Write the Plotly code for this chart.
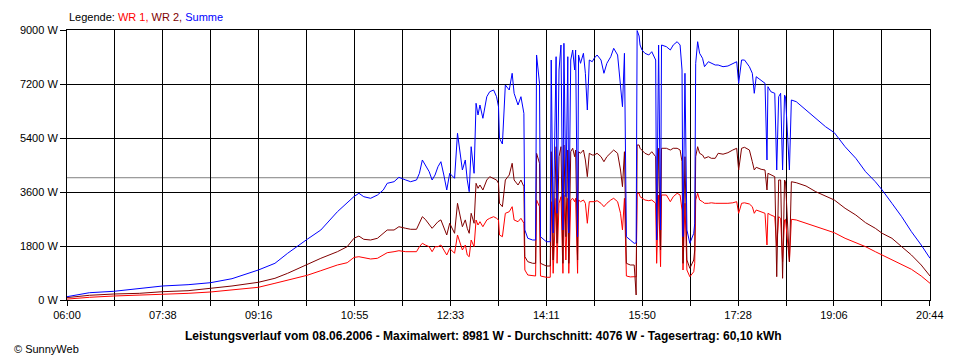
import plotly.graph_objects as go
import pandas as pd

DAY = "2006-06-08"

times = [
    "06:00", "06:09", "06:23", "06:48", "07:14", "07:38", "08:04", "08:27", "08:49", "09:16",
    "09:33", "09:46", "10:06", "10:20", "10:37", "10:47", "10:54", "10:59", "11:04", "11:11",
    "11:18", "11:24", "11:28", "11:35", "11:40", "11:47", "11:52", "11:58", "12:01", "12:04",
    "12:07", "12:11", "12:14", "12:17", "12:20", "12:23", "12:26", "12:29", "12:32", "12:37",
    "12:40", "12:42", "12:45", "12:48", "12:50", "12:52", "12:54", "12:57", "12:59", "13:01",
    "13:03", "13:06", "13:10", "13:13", "13:17", "13:20", "13:22", "13:23", "13:26", "13:29",
    "13:33", "13:36", "13:38", "13:42", "13:45", "13:48", "13:49", "13:52", "13:57", "14:00",
    "14:01", "14:04", "14:05", "14:11", "14:15", "14:16", "14:18", "14:21", "14:22", "14:24",
    "14:26", "14:28", "14:29", "14:31", "14:33", "14:34", "14:36", "14:38", "14:40", "14:41",
    "14:43", "14:44", "14:46", "14:49", "14:51", "14:53", "14:55", "14:58", "15:00", "15:03",
    "15:07", "15:10", "15:13", "15:17", "15:20", "15:24", "15:27", "15:29", "15:31", "15:33",
    "15:37", "15:41", "15:43", "15:44", "15:46", "15:47", "15:49", "15:52", "15:56", "15:59",
    "16:03", "16:04", "16:06", "16:08", "16:09", "16:14", "16:18", "16:21", "16:25", "16:28",
    "16:30", "16:31", "16:33", "16:35", "16:38", "16:42", "16:43", "16:44", "16:46", "16:48",
    "16:51", "16:53", "16:57", "17:00", "17:04", "17:07", "17:12", "17:17", "17:22", "17:26",
    "17:28", "17:31", "17:34", "17:39", "17:42", "17:44", "17:46", "17:51", "17:55", "17:57",
    "17:58", "18:01", "18:05", "18:07", "18:09", "18:11", "18:13", "18:15", "18:16", "18:20",
    "18:22", "18:27", "18:37", "18:47", "18:57", "19:06", "19:17", "19:28", "19:38", "19:48",
    "19:55", "20:05", "20:15", "20:25", "20:35", "20:44",
]

summe = [
    110, 167, 243, 290, 390, 467, 510, 577, 710, 1000,
    1223, 1557, 2023, 2333, 2943, 3223, 3450, 3557, 3443, 3390,
    3500, 3667, 3890, 3943, 4090, 4000, 3943, 4000, 4223, 4667,
    4500, 4277, 4000, 4167, 4443, 4610, 4167, 3667, 4223, 4057,
    5557, 5000, 4333, 4667, 4000, 3610, 5110, 4223, 6557, 6167,
    6500, 6057, 6777, 6943, 7000, 6777, 6443, 5390, 5200, 7167,
    7000, 7557, 6890, 6500, 6777, 6223, 2333, 2057, 2000, 2000,
    8167, 7223, 2110, 1943, 1943, 8000, 2233, 8110, 2890, 7667,
    8500, 2333, 8557, 3443, 8110, 2233, 8000, 8333, 7667, 8333,
    2110, 8167, 7890, 8223, 7557, 6333, 8000, 7943, 8057, 8167,
    8000, 7557, 7890, 8110, 8390, 8167, 7223, 6443, 8223, 2110,
    2000, 1890, 1900, 8981, 8800, 8500, 8333, 8223, 8167, 8277,
    8000, 2000, 8500, 2333, 8500, 8443, 8333, 8500, 8610, 8500,
    7667, 2110, 7557, 2333, 1890, 2223, 2557, 7890, 8610, 8223,
    8057, 7777, 7943, 7890, 7833, 7833, 7777, 7800, 7890, 7943,
    7223, 8000, 8000, 7777, 7557, 6890, 7443, 7333, 7223, 4667,
    7110, 6943, 6890, 4333, 6777, 6890, 4333, 6830, 6777, 4333,
    6667, 6610, 6333, 6057, 5777, 5577, 5110, 4723, 4277, 3943,
    3667, 3223, 2777, 2277, 1833, 1390,
]

wr2 = [
    80, 110, 157, 200, 222, 277, 310, 390, 467, 590,
    723, 890, 1190, 1390, 1610, 1777, 2060, 2130, 2023, 2000,
    2057, 2223, 2333, 2333, 2443, 2390, 2357, 2357, 2557, 2777,
    2690, 2500, 2390, 2500, 2610, 2670, 2443, 2167, 2557, 2223,
    3223, 2943, 2443, 2670, 2390, 2223, 2890, 2557, 3890, 3723,
    3833, 3667, 4000, 4110, 4057, 4000, 3890, 3223, 3110, 4000,
    4167, 4557, 4000, 3833, 4000, 3777, 1443, 1277, 1223, 1223,
    4890, 4557, 1223, 1133, 1133, 4943, 1333, 5110, 1890, 4777,
    5110, 1223, 5167, 2110, 5000, 1223, 4943, 5057, 4777, 5000,
    1333, 4943, 4890, 5000, 4667, 4110, 4890, 4833, 4833, 4890,
    4777, 4610, 4777, 4890, 5000, 4890, 4333, 3777, 4943, 1223,
    1167, 1167, 167, 5167, 5167, 5057, 5000, 4890, 4833, 4943,
    4777, 2000, 5057, 1667, 5057, 5057, 5000, 5057, 5057, 5000,
    4610, 1223, 4777, 1333, 1057, 1333, 1667, 4777, 5110, 4890,
    4833, 4723, 4777, 4723, 4723, 4890, 4860, 4910, 5000, 5057,
    4333, 5057, 5090, 5000, 4610, 4333, 4423, 4357, 4333, 3667,
    4223, 4167, 4110, 777, 4000, 4000, 723, 4000, 3943, 1277,
    3943, 3910, 3800, 3610, 3467, 3333, 3057, 2833, 2577, 2390,
    2223, 2057, 1777, 1500, 1167, 800,
]

wr1 = [
    30, 55, 90, 133, 157, 190, 222, 267, 333, 423,
    557, 667, 823, 977, 1167, 1243, 1420, 1443, 1420, 1367,
    1390, 1500, 1577, 1610, 1643, 1610, 1610, 1610, 1777, 1890,
    1833, 1777, 1610, 1777, 1777, 1833, 1667, 1500, 1720, 1557,
    2167, 1943, 1667, 1833, 1500, 1443, 2000, 1777, 2667, 2500,
    2610, 2443, 2667, 2723, 2777, 2723, 2667, 2167, 2110, 2890,
    2943, 3110, 2667, 2610, 2723, 2557, 1000, 833, 800, 800,
    3333, 3110, 800, 757, 757, 3277, 890, 3390, 1223, 3223,
    3443, 890, 3500, 1333, 3390, 890, 3333, 3390, 3277, 3390,
    890, 3333, 3277, 3333, 3223, 2557, 3277, 3277, 3277, 3310,
    3223, 3110, 3223, 3333, 3390, 3277, 2890, 2333, 3390, 800,
    770, 777, 770, 3557, 3557, 3443, 3390, 3333, 3310, 3333,
    3223, 1223, 3500, 1110, 3500, 3500, 3277, 3443, 3557, 3500,
    3000, 1000, 3223, 1000, 777, 943, 1223, 3333, 3557, 3333,
    3277, 3223, 3223, 3240, 3223, 3223, 3200, 3223, 3240, 3277,
    2890, 3223, 3240, 3200, 3110, 2890, 3000, 2943, 2890, 1833,
    2890, 2833, 2777, 1777, 2777, 2723, 1277, 2667, 2690, 1277,
    2690, 2667, 2557, 2443, 2333, 2243, 2057, 1910, 1777, 1610,
    1500, 1357, 1200, 1023, 800, 557,
]

y_ticks = [0, 1800, 3600, 5400, 7200, 9000]
y_labels = ["0 W", "1800 W", "3600 W", "5400 W", "7200 W", "9000 W"]
x_labels = ["06:00", "07:38", "09:16", "10:55", "12:33", "14:11", "15:50", "17:28", "19:06", "20:44"]
average = 4076
title_text = ("Leistungsverlauf vom 08.06.2006 - Maximalwert: 8981 W - "
              "Durchschnitt: 4076 W - Tagesertrag: 60,10 kWh")

FONT = "Liberation Sans, Arial, sans-serif"

x = [f"{DAY} {t}" for t in times]

fig = go.Figure()
fig.add_trace(go.Scatter(x=x, y=wr1, mode="lines", name="WR 1",
                         line=dict(color="#ff0000", width=1)))
fig.add_trace(go.Scatter(x=x, y=wr2, mode="lines", name="WR 2",
                         line=dict(color="#800000", width=1)))
fig.add_trace(go.Scatter(x=x, y=summe, mode="lines", name="Summe",
                         line=dict(color="#0000ff", width=1)))

start = pd.Timestamp(f"{DAY} 06:00")
end = pd.Timestamp(f"{DAY} 20:44")
n_int = 2 * (len(x_labels) - 1)
step = (end - start) / n_int
tickvals = [(start + i * step).to_pydatetime() for i in range(n_int + 1)]
ticktext = [x_labels[i // 2] if i % 2 == 0 else "" for i in range(n_int + 1)]

fig.add_shape(type="line", xref="paper", x0=0, x1=1, yref="y", y0=average, y1=average,
              line=dict(color="#808080", width=1), layer="below")

# page body has an 8px default margin, so the figure is offset by (8, 8)
fig.update_layout(
    width=952, height=352,
    margin=dict(l=53, r=30, t=22, b=60),
    paper_bgcolor="white", plot_bgcolor="white",
    showlegend=False,
    font=dict(family=FONT, size=11, color="black"),
    xaxis=dict(
        type="date", range=[start.to_pydatetime(), end.to_pydatetime()],
        tickmode="array", tickvals=tickvals, ticktext=ticktext,
        showgrid=True, gridcolor="black", gridwidth=1,
        showline=True, linecolor="black", linewidth=1, mirror=True,
        ticks="outside", ticklen=5, tickcolor="black", tickwidth=1,
        zeroline=False, tickfont=dict(family=FONT, size=11, color="black"),
    ),
    yaxis=dict(
        range=[0, 9000], tickmode="array", tickvals=y_ticks, ticktext=y_labels,
        showgrid=True, gridcolor="black", gridwidth=1,
        showline=True, linecolor="black", linewidth=1, mirror=True,
        ticks="outside", ticklen=6, tickcolor="black", tickwidth=1,
        zeroline=False, tickfont=dict(family=FONT, size=11, color="black"),
    ),
    annotations=[
        dict(xref="paper", yref="paper", x=0, y=(300 - 17) / 270,
             xanchor="left", yanchor="middle", showarrow=False,
             text=('Legende: <span style="color:#ff0000">WR 1,</span> '
                   '<span style="color:#800000">WR 2,</span> '
                   '<span style="color:#0000ff">Summe</span>'),
             font=dict(family=FONT, size=11, color="black")),
        dict(xref="paper", yref="paper", x=(480 - 61) / 869, y=(300 - 336) / 270,
             xanchor="center", yanchor="middle", showarrow=False,
             text=f"<b>{title_text}</b>",
             font=dict(family=FONT, size=12, color="black")),
        dict(xref="paper", yref="paper", x=(6 - 61) / 869, y=(300 - 349) / 270,
             xanchor="left", yanchor="middle", showarrow=False,
             text="© SunnyWeb",
             font=dict(family=FONT, size=11, color="black")),
    ],
)

fig.write_html("out.html")
